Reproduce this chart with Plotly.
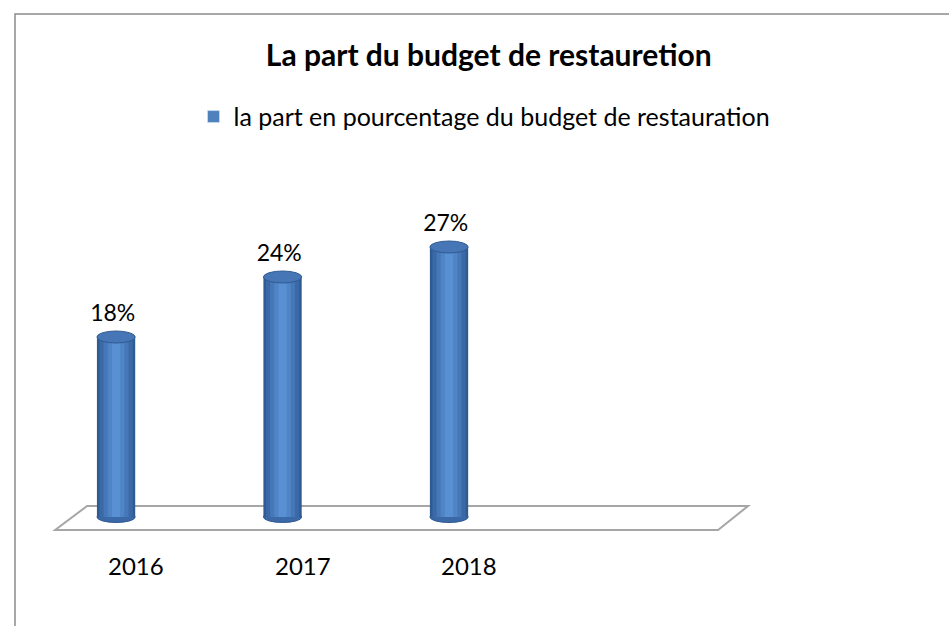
import plotly.graph_objects as go

years = ["2016", "2017", "2018", ""]
parts = [18, 24, 27]
labels = ["18%", "24%", "27%"]
serie = "la part en pourcentage du budget de restauration"
titre = "La part du budget de restauretion"

FONT = "Lato"
pos = list(range(len(parts)))

fig = go.Figure()

# cylindre : plusieurs barres superposees pour simuler le degrade
couches = [(0.23, "#2F5B91"), (0.20, "#3B69A8"), (0.15, "#4678B8"),
           (0.10, "#4F84C6"), (0.05, "#5890D3")]
for i, (w, c) in enumerate(couches):
    fig.add_trace(go.Bar(x=pos, y=parts, width=w,
                         marker=dict(color=c, line_width=0),
                         name=serie, showlegend=False, hoverinfo="skip"))

# trace pour la legende
fig.add_trace(go.Bar(x=[None], y=[None], name=serie,
                     marker=dict(color="#4F81BD"), showlegend=True))

# etiquettes de donnees
fig.add_trace(go.Scatter(x=[p - 0.02 for p in pos], y=[v + 2.2 for v in parts],
                         mode="text", text=labels, showlegend=False,
                         textfont=dict(family=FONT, size=23, color="#000000"),
                         textposition="middle center", hoverinfo="skip"))

shapes = []
# sol 3D
shapes.append(dict(type="path",
                   path="M -0.366,-1.3 L 3.616,-1.3 L 3.796,1.1 L -0.174,1.1 Z",
                   xref="x", yref="y", line=dict(color="#A6A6A6", width=2),
                   fillcolor="rgba(255,255,255,0)", layer="below"))
for p, v in zip(pos, parts):
    # base du cylindre
    shapes.append(dict(type="circle", xref="x", yref="y",
                       x0=p - 0.115, x1=p + 0.115, y0=-0.55, y1=0.55,
                       fillcolor="#3B69A8", line=dict(color="#2F5B91", width=1),
                       layer="below"))
    # dessus du cylindre
    shapes.append(dict(type="circle", xref="x", yref="y",
                       x0=p - 0.115, x1=p + 0.115, y0=v - 0.6, y1=v + 0.6,
                       fillcolor="#4676B6", line=dict(color="#2F5B91", width=1),
                       layer="above"))
# cadre
shapes.append(dict(type="path", xref="paper", yref="paper",
                   path="M -0.0055,-0.2 L -0.0055,1.312 L 1.05,1.312",
                   line=dict(color="#8C8C8C", width=1.5)))

annotations = []
for p, yr in zip(pos, years):
    annotations.append(dict(x=p + 0.12, y=0.048, xref="x", yref="paper",
                            text=yr, showarrow=False,
                            font=dict(family=FONT, size=24, color="#000000"),
                            xanchor="center", yanchor="middle"))

fig.update_layout(
    width=949, height=626,
    margin=dict(l=20, r=20, t=150, b=40),
    paper_bgcolor="white", plot_bgcolor="white",
    barmode="overlay",
    title=dict(text="<b>" + titre + "</b>", x=0.515, y=0.912,
               xanchor="center", yanchor="middle",
               font=dict(family=FONT, size=30, color="#000000")),
    legend=dict(orientation="h", x=0.511, y=1.076, xanchor="center",
                yanchor="middle", font=dict(family=FONT, size=25, color="#000000"),
                itemwidth=30),
    xaxis=dict(range=[-0.577, 4.883], visible=False, showgrid=False),
    yaxis=dict(range=[-6.9, 36.7], visible=False, showgrid=False),
    shapes=shapes,
    annotations=annotations,
)

fig.write_html("out.html", config=dict(displayModeBar=False),
               post_script="document.body.style.margin='0';")
